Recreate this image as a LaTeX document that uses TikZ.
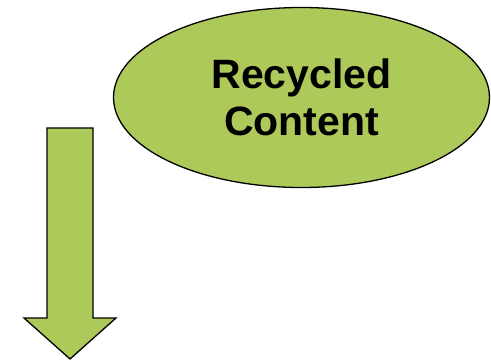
\documentclass[tikz,border=0pt]{standalone}
\usepackage{fontspec}
\setmainfont{Liberation Sans}
\usetikzlibrary{shapes.geometric, positioning}
\definecolor{leafgreen}{RGB}{173,201,89}

\begin{document}
\begin{tikzpicture}[
    x=1pt, y=-1pt,
    blob/.style={
        ellipse, draw, line width=1.3pt, fill=leafgreen,
        minimum width=376pt, minimum height=180pt, inner sep=0pt,
        align=center, font=\fontsize{41}{47}\selectfont\bfseries
    },
    downarrow/.style={draw, line width=1.3pt, fill=leafgreen, line join=miter}
]
\useasboundingbox (0,0) rectangle (491,361);

\node[blob] (recycled) at (301.5,97.5) {Recycled\\Content};

% arrow pointing down
\draw[downarrow] (47,128) -- (93,128) -- (93,318) -- (116,318)
    -- (70,359) -- (24,318) -- (47,318) -- cycle;

\end{tikzpicture}
\end{document}
